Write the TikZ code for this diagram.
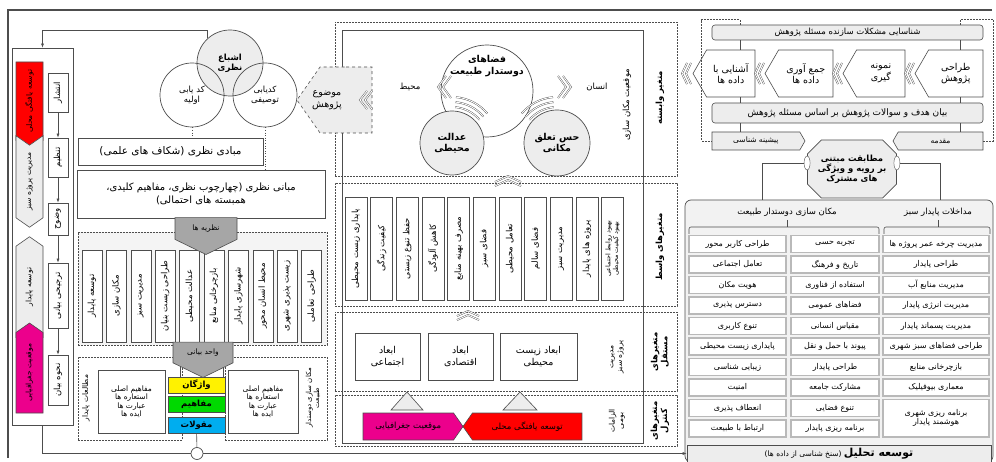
\documentclass[tikz,border=0pt]{standalone}
\usepackage{fontspec}
\newfontfamily\arabicfont[Script=Arabic]{DejaVu Sans}
\TeXXeTstate=1
\usepackage{tikz}
\usetikzlibrary{arrows.meta,positioning,shapes.symbols,shapes.misc,shapes.geometric}
\newcommand{\fa}[1]{\beginR #1\endR}
\definecolor{frame}{HTML}{4D4D4D}
\definecolor{lgray}{HTML}{EDEDED}
\definecolor{dgray}{HTML}{A6A6A6}

\begin{document}
\begin{tikzpicture}[x=1pt, y=-1pt,
 t5/.style={font=\arabicfont\fontsize{8.5}{9.5}\selectfont},
 t6/.style={font=\arabicfont\fontsize{7.5}{8.5}\selectfont},
 t7/.style={font=\arabicfont\fontsize{8.5}{10}\selectfont},
 t8/.style={font=\arabicfont\fontsize{9.5}{11.5}\selectfont},
 b7/.style={font=\arabicfont\bfseries\fontsize{8.5}{10}\selectfont},
 b8/.style={font=\arabicfont\bfseries\fontsize{9.5}{11.5}\selectfont},
 line/.style={draw=frame, line width=0.6pt},
 arr/.style={line, -{Latex[length=4pt,width=3pt]}},
 box/.style={draw=frame, line width=0.6pt, fill=white, align=center, inner sep=1pt, t6},
 gbox/.style={box, fill=lgray},
 vbox/.style={box, rotate=90, t5},
 vlab/.style={rotate=90, align=center, b7},
 dbox/.style={draw=frame, line width=0.8pt, dash pattern=on 2pt off 1pt},
 sig/.style={signal, draw=frame, line width=0.6pt, align=center, inner sep=1pt, t7},
 vsig/.style={sig, rotate=90, t6, signal pointer angle=110},
 pent/.style={signal, signal to=south, signal pointer angle=128, fill=dgray, draw=frame, line width=0.6pt, t6},
 circ/.style={circle, draw=frame, line width=0.7pt, align=center, inner sep=0pt},
 cbox/.style={box, b7, minimum width=57, minimum height=16},
 cell/.style={draw=gray!55, line width=1.3pt, fill=white, minimum height=17, inner sep=0pt, align=center, font=\arabicfont\fontsize{8}{9}\selectfont},
 chev/.style={draw=frame, double=white, double distance=0.9pt, line width=0.4pt}]

\fill[white] (0,0) rectangle (996,462);
\useasboundingbox (0,0) rectangle (996,462);
\draw[line, line width=1.3pt] (992,10) -- (8,10) -- (8,458);

\node[box, line width=0.8pt, minimum width=61, minimum height=377] (strip) at (42.5,236.5) {};
\node[vsig, signal to=west, fill=red, minimum width=88, minimum height=27] (ytg) at (29.5,101.25) {\fa{توسعه یافتگی محلی}};
\node[vsig, signal from=east, signal to=west, fill=lgray, minimum width=91.5, minimum height=27] (mps) at (29.5,181.5) {\fa{مدیریت پروژه سبز}};
\node[vsig, signal from=west, signal to=east, fill=lgray, minimum width=100.5, minimum height=27] (tpd) at (29.5,287) {\fa{توسعه پایدار}};
\node[vsig, signal to=east, fill=magenta, minimum width=90, minimum height=27] (mjg) at (29.5,372.75) {\fa{موقعیت جغرافیایی}};
\foreach \y/\h/\t [count=\i] in {92.5/39/انتشار, 157.5/39/تنظیم, 219/32/وضوح, 295.5/65/ترجیحی بیانی, 380/50/نحوه بیان}
  \node[vbox, minimum width=\h, minimum height=20] (bn\i) at (58,\y) {\fa{\t}};
\foreach \i [evaluate=\i as \j using int(\i+1)] in {1,...,4} \draw[arr] (bn\i) -- (bn\j);

\node[circ, fill=lgray, minimum size=66, b7] (ashba) at (230,63) {\fa{اشباع}\\\fa{نظری}};
\node[circ, minimum size=64, t7] (kod1) at (192,95) {\fa{کد یابی}\\\fa{اولیه}};
\node[circ, minimum size=64, t7] (kod2) at (265,95) {\fa{کدیابی}\\\fa{توصیفی}};
\node[box, font=\arabicfont\fontsize{10.5}{12}\selectfont, minimum width=185, minimum height=27] (mabadi) at (170.5,151.5) {\fa{مبادی نظری (شکاف های علمی)}};
\node[box, font=\arabicfont\fontsize{10}{13}\selectfont, minimum width=248, minimum height=48] (mabani) at (201,194) {\fa{مبانی نظری (چهارچوب نظری، مفاهیم کلیدی،}\\\fa{همبسته های احتمالی)}};
\draw[line, dotted, line width=0.8pt] (kod1.south) -- (kod1.south |- mabadi.north);
\draw[line, dotted, line width=0.8pt] (kod2.south) -- (kod2.south |- mabani.north);

\node[dbox, fill=lgray!60, minimum width=249, minimum height=113] (thbox) at (202.5,288.5) {};
\foreach \t [count=\i from 0] in {توسعه پایدار, مکان سازی, مدیریت سبز, طراحی زیست بنیان, عدالت محیطی, بازچرخانی منابع, شهرسازی پایدار, محیط انسان محور, زیست پذیری شهری, طراحی تعاملی}
  \node[vbox, minimum width=92, minimum height=20] (th\i) at ({92+24.4*\i},296) {\fa{\t}};
\node[pent, minimum width=62, minimum height=30] (nazariye) at (206,228.5) {\fa{نظریه ها}};

\node[dbox, minimum width=104, minimum height=83] (grpL) at (130,398.5) {};
\node[dbox, minimum width=102, minimum height=83] (grpR) at (276,398.5) {};
\node[box, minimum width=67, minimum height=63] (mafL) at (131.5,401.5) {\fa{مفاهیم اصلی}\\\fa{استعاره ها}\\\fa{عبارت ها}\\\fa{ایده ها}};
\node[box, minimum width=70, minimum height=63] (mafR) at (263,401.5) {\fa{مفاهیم اصلی}\\\fa{استعاره ها}\\\fa{عبارت ها}\\\fa{ایده ها}};
\node[vlab, t6] (lblL) at (86,398) {\fa{مطالعات پایدار}};
\node[vlab, font=\arabicfont\fontsize{7}{8}\selectfont] (lblR) at (313,398) {\fa{مکان سازی دوستدار}\\\fa{طبیعت}};
\node[cbox, fill=yellow] (vazh) at (196.5,385) {\fa{واژگان}};
\node[cbox, fill=green!85!black] (mafa) at (196.5,404.5) {\fa{مفاهیم}};
\node[cbox, fill=cyan] (maqu) at (196.5,425) {\fa{مقولات}};
\draw[line] ([xshift=13]vazh.north west) -- ++(0,-22);
\draw[line] ([xshift=-2]vazh.north east) -- ++(0,-22);
\node[pent, minimum width=60, minimum height=30] (vahed) at (203,352.5) {\fa{واحد بیانی}};

\node[dbox, minimum width=342, minimum height=154] (dep) at (506,99) {};
\node[dbox, minimum width=342, minimum height=123] (med) at (506,244.5) {};
\node[dbox, minimum width=342, minimum height=79] (ind) at (506,351.5) {};
\node[dbox, minimum width=342, minimum height=51] (ctl) at (506,420.5) {};
\draw[line] (342,30) rectangle (643,443);

\node[circ, minimum size=92] (faza) at (487,91) {};
\node[b8, align=center] (fazatxt) at (487,66) {\fa{فضاهای}\\\fa{دوستدار طبیعت}};
\node[circ, fill=lgray, minimum size=64, b8] (edalat) at (452,143) {\fa{عدالت}\\\fa{محیطی}};
\node[circ, fill=lgray, minimum size=66, b8] (hes) at (557,143) {\fa{حس تعلق}\\\fa{مکانی}};
\foreach \r in {36,41,46} {
  \draw[chev] ([shift={(-85:\r)}]edalat.center) arc[start angle=-85, end angle=-40, radius=\r];
  \draw[chev] ([shift={(-140:\r)}]hes.center) arc[start angle=-140, end angle=-95, radius=\r];
}
\node[t7] (mohit) at (410,87) {\fa{محیط}};
\node[t7] (ensan) at (597,87) {\fa{انسان}};
\draw[chev] (446,76) -- (438,87) -- (446,98);
\draw[chev] (451,76) -- (443,87) -- (451,98);
\draw[chev] (563,76) -- (571,87) -- (563,98);
\draw[chev] (558,76) -- (566,87) -- (558,98);
\node[vlab, t7] (mmk) at (627,105) {\fa{موقعیت مکان سازی}};
\node[vlab] (vabaste) at (660,98) {\fa{متغیر وابسته}};

\foreach \t [count=\i from 0] in {پایداری زیست محیطی, کیفیت زندگی, حفظ تنوع زیستی, کاهش آلودگی, مصرف بهینه منابع, فضای سبز, تعامل محیطی, فضای سالم, مدیریت سبز, پروژه های پایدار}
  \node[vbox, minimum width=103, minimum height=22] (md\i) at ({356+25.65*\i},248.5) {\fa{\t}};
\node[vbox, font=\arabicfont\fontsize{6.5}{7.5}\selectfont, minimum width=103, minimum height=22] (md10) at (612.5,248.5) {\fa{بهبود روابط اجتماعی}\\\fa{بهبود کیفیت محیطی}};
\node[vlab] (vaset) at (660,247) {\fa{متغیرهای واسط}};
\draw[chev] (495,182) -- (508,176) -- (521,182);
\draw[chev] (495,186) -- (508,180) -- (521,186);
\draw[chev] (457,316) -- (468,311) -- (479,316);
\draw[chev] (457,320) -- (468,315) -- (479,320);

\node[box, t8, minimum width=65, minimum height=47] (ejt) at (387.5,356.5) {\fa{ابعاد}\\\fa{اجتماعی}};
\node[box, t8, minimum width=65, minimum height=47] (eqt) at (460.5,356.5) {\fa{ابعاد}\\\fa{اقتصادی}};
\node[box, t8, minimum width=77, minimum height=47] (zst) at (538.5,356.5) {\fa{ابعاد زیست}\\\fa{محیطی}};
\node[vlab, t6] (mpsb) at (617,357) {\fa{مدیریت}\\\fa{پروژه سبز}};
\node[vlab] (mostaghel) at (660,352) {\fa{متغیرهای}\\\fa{مستقل}};

\draw[line, fill=lgray] (407,392) -- (423,410) -- (391,410) -- cycle;
\draw[line, fill=lgray] (520,392) -- (537,410) -- (503,410) -- cycle;
\node[sig, signal to=east, signal pointer angle=110, fill=magenta, minimum width=100, minimum height=27] (geo) at (408.3,426.5) {\fa{موقعیت جغرافیایی}};
\node[sig, signal to=west, signal pointer angle=110, fill=red, minimum width=119, minimum height=27] (tos) at (527.2,426.5) {\fa{توسعه یافتگی محلی}};
\node[vlab, t6] (elzam) at (617,421) {\fa{الزامات}\\\fa{بومی}};
\node[vlab] (control) at (660,421) {\fa{متغیرهای}\\\fa{کنترل}};

\node[sig, signal to=west, signal pointer angle=110, fill=lgray, dashed, minimum width=75, minimum height=66] (mozu) at (346,100) {};
\node[t8, align=center] (mozutxt) at (327,100) {\fa{موضوع}\\\fa{پژوهش}};
\draw[chev] (367,91) -- (360,100) -- (367,109);
\draw[chev] (372,91) -- (365,100) -- (372,109);

\node[gbox, rounded corners=3, t7, minimum width=271, minimum height=15] (bar1) at (847.5,32.5) {\fa{شناسایی مشکلات سازنده مسئله پژوهش}};
\node[sig, signal to=west, signal pointer angle=120, fill=white, t8, minimum width=62, minimum height=47] (S1) at (730.8,73.5) {\fa{آشنایی با}\\\fa{داده ها}};
\node[sig, signal to=west, signal pointer angle=120, fill=white, t8, minimum width=68, minimum height=47] (S2) at (805.8,73.5) {\fa{جمع آوری}\\\fa{داده ها}};
\node[sig, signal to=west, signal pointer angle=120, fill=white, t8, minimum width=62, minimum height=47] (S3) at (880.8,73.5) {\fa{نمونه}\\\fa{گیری}};
\node[sig, signal to=west, signal pointer angle=120, fill=white, t8, minimum width=68, minimum height=47] (S4) at (955.8,73.5) {\fa{طراحی}\\\fa{پژوهش}};
\foreach \cx in {682,755,833,905} {
  \draw[chev] (\cx+5,63) -- (\cx,73.5) -- (\cx+5,84);
  \draw[chev] (\cx+9,63) -- (\cx+4,73.5) -- (\cx+9,84);
}
\node[gbox, rounded corners=3, font=\arabicfont\fontsize{9}{10}\selectfont, minimum width=271, minimum height=20] (bar2) at (847.5,113) {\fa{بیان هدف و سوالات پژوهش بر اساس مسئله پژوهش}};
\node[sig, signal to=east, signal pointer angle=120, fill=lgray, t6, minimum width=93, minimum height=18] (pish) at (755.9,141) {\fa{پیشینه شناسی}};
\node[sig, signal to=west, signal pointer angle=120, fill=lgray, t6, minimum width=90, minimum height=18] (moq) at (940.6,141) {\fa{مقدمه}};
\coordinate (cl) at (740,0);
\coordinate (cr) at (960,0);
\draw[line] (bar1.south -| cl) -- (S1.north -| cl);
\draw[line] (S1.south -| cl) -- (bar2.north -| cl);
\draw[line] (bar2.south -| cl) -- (pish.north -| cl);
\draw[line] (bar1.south -| cr) -- (S4.north -| cr);
\draw[line] (S4.south -| cr) -- (bar2.north -| cr);
\draw[line] (bar2.south -| cr) -- (moq.north -| cr);
\draw[dbox] (bar1.north -| cl) -- ++(0,-5) -| ([xshift=-10]pish.west) -- (pish.west);
\draw[dbox] (bar1.north -| cr) -- ++(0,-5) -| ([xshift=10]moq.east) -- (moq.east);

\node[draw=frame, line width=0.7pt, rounded corners=6, fill=lgray!70, minimum width=308, minimum height=262] (tbl) at (839,331) {};
\node[chamfered rectangle, chamfered rectangle xsep=7pt, chamfered rectangle ysep=7pt, draw=frame, fill=lgray, line width=0.7pt, align=center, minimum width=80, minimum height=58, b7] (match) at (852,169) {\fa{مطابقت مبتنی}\\\fa{بر رویه و ویژگی}\\\fa{های مشترک}};
\node[ellipse, draw=frame, fill=white, minimum width=6, minimum height=14, inner sep=0pt] (capL) at ([yshift=6]match.west) {};
\node[ellipse, draw=frame, fill=white, minimum width=6, minimum height=14, inner sep=0pt] (capR) at ([yshift=6]match.east) {};
\coordinate (tl) at (762,0);
\coordinate (tr) at (940,0);
\draw[line] (capL.west) -| (tbl.north -| tl);
\draw[line] (capR.east) -| (tbl.north -| tr);
\node[t7] (hdL) at (787,212) {\fa{مکان سازی دوستدار طبیعت}};
\node[t7] (hdR) at (938,212) {\fa{مداخلات پایدار سبز}};
\draw[line, rounded corners=2] (689,234) -- (689,227) -- (879,227) -- (879,234);
\draw[line, rounded corners=2] (884,234) -- (884,227) -- (990,227) -- (990,234);
\draw[line] (hdL.south) -- (hdL.south |- 0,227);
\draw[line] (hdR.south) -- (hdR.south |- 0,227);
\foreach \t [count=\i from 0] in {طراحی کاربر محور, تعامل اجتماعی, هویت مکان, دسترس پذیری, تنوع کاربری, پایداری زیست محیطی, زیبایی شناسی, امنیت, انعطاف پذیری, ارتباط با طبیعت}
  \node[cell, minimum width=97] (cL\i) at (737.5,{244+20.5*\i}) {\fa{\t}};
\foreach \t [count=\i from 0] in {تجربه حسی, تاریخ و فرهنگ, استفاده از فناوری, فضاهای عمومی, مقیاس انسانی, پیوند با حمل و نقل, طراحی پایدار, مشارکت جامعه, تنوع فضایی, برنامه ریزی پایدار}
  \node[cell, minimum width=88] (cM\i) at (835,{244+20.5*\i}) {\fa{\t}};
\foreach \t [count=\i from 0] in {مدیریت چرخه عمر پروژه ها, طراحی پایدار, مدیریت منابع آب, مدیریت انرژی پایدار, مدیریت پسماند پایدار, طراحی فضاهای سبز شهری, بازچرخانی منابع, معماری بیوفیلیک}
  \node[cell, minimum width=106] (cR\i) at (936,{244+20.5*\i}) {\fa{\t}};
\node[cell, minimum width=106, minimum height=37.5] (cR8) at (936,418.25) {\fa{برنامه ریزی شهری}\\\fa{هوشمند پایدار}};
\node[box, fill=lgray, minimum width=304, minimum height=17] (tahlil) at (839,453.5) {\beginR{\arabicfont\bfseries\fontsize{11}{12}\selectfont توسعه تحلیل} (سنخ شناسی از داده ها)\endR};

\node[circle, draw=frame, line width=0.7pt, fill=white, minimum size=12] (hub) at (197,453.5) {};
\draw[line] (maqu) -- (hub);
\coordinate (fbt) at (42.5,30);
\coordinate (fbb) at (42.5,453.5);
\draw[arr] (ashba.132) |- (fbt) -- (strip.north);
\draw[line] (strip.south) -- (fbb) -- (hub);
\draw[arr] (hub) -- (tahlil);
\end{tikzpicture}
\end{document}
